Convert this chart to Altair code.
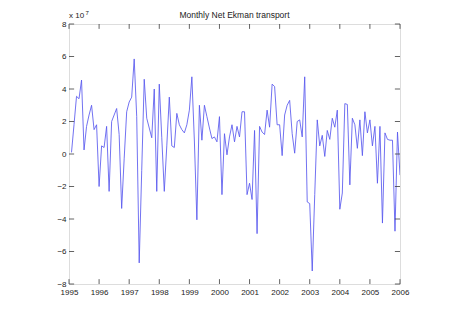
import altair as alt
import pandas as pd

# Monthly Net Ekman transport (units of 1e7), one list per year, months Jan..Dec
y1995 = [0.1, 1.8, 3.55, 3.4, 4.55, 0.25, 1.7, 2.4, 3.0, 1.5, 1.8, -2.0]
y1996 = [0.5, 0.4, 1.7, -2.3, 2.0, 2.4, 2.8, 1.2, -3.35, -0.3, 2.6, 3.2]
y1997 = [3.5, 5.85, 2.3, -6.7, -1.0, 4.6, 2.2, 1.6, 1.0, 4.0, -2.3, 4.3]
y1998 = [1.0, -2.3, 0.5, 3.5, 0.5, 0.4, 2.5, 1.8, 1.5, 1.3, 1.8, 2.7]
y1999 = [4.75, 0.8, -4.05, 3.0, 0.85, 3.0, 2.3, 1.6, 0.95, 1.05, 0.75, 2.3]
y2000 = [-2.5, 1.25, -0.05, 1.05, 1.8, 0.75, 1.7, 1.05, 2.6, 2.6, -2.5, -1.8]
y2001 = [-2.8, 1.45, -4.9, 1.7, 1.35, 1.2, 2.7, 1.65, 4.3, 4.15, 1.8, 1.8]
y2002 = [-0.1, 2.4, 3.0, 3.3, 1.25, 0.05, 2.0, 2.1, 1.05, 4.75, -2.95, -3.05]
y2003 = [-7.2, -2.5, 2.1, 0.5, 1.15, -0.15, 1.45, 0.9, 2.2, 1.65, 2.7, -3.4]
y2004 = [-2.4, 3.1, 3.05, -1.9, 2.2, 1.8, 0.35, 2.1, -0.1, 2.6, 1.3, 2.1]
y2005 = [0.5, 1.7, -1.8, 1.7, -4.25, 1.3, 0.9, 0.85, 0.85, -4.75, 1.35, -1.3]

start_year = 1995
x_ticks = [1995, 1996, 1997, 1998, 1999, 2000, 2001, 2002, 2003, 2004, 2005, 2006]
y_ticks = [-8, -6, -4, -2, 0, 2, 4, 6, 8]
title_text = "Monthly Net Ekman transport"

vals = (y1995 + y1996 + y1997 + y1998 + y1999 + y2000 + y2001 + y2002
        + y2003 + y2004 + y2005)
df = pd.DataFrame({"t": [start_year + (i + 1) / 12 for i in range(len(vals))],
                   "v": vals})

FONT = "Liberation Sans"
AX = "#3c3c3c"
W, H = 331, 260
xs = alt.Scale(domain=[1995, 2006], nice=False, zero=False)
ys = alt.Scale(domain=[-8, 8], nice=False, zero=False)
x_axis = alt.Axis(values=x_ticks, format="d", title=None, tickSize=0,
                  grid=False, domain=False, labelPadding=4,
                  labelOverlap=False, labelFlush=False, labelBound=False,
                  labelFont=FONT, labelFontSize=8, labelColor="#222")
y_axis = alt.Axis(values=y_ticks, title=None, tickSize=0, grid=False,
                  domain=False, labelPadding=3, labelOverlap=False,
                  labelFlush=False, labelBound=False, labelFont=FONT,
                  labelFontSize=8, labelColor="#222")

line = alt.Chart(df).mark_line(color="#5858ee", strokeWidth=0.85, clip=True).encode(
    x=alt.X("t:Q", scale=xs, axis=x_axis),
    y=alt.Y("v:Q", scale=ys, axis=y_axis),
)

xt = pd.DataFrame({"x": x_ticks})
yt = pd.DataFrame({"y": y_ticks})

bottom_ticks = alt.Chart(xt).mark_rule(color=AX, strokeWidth=0.8).encode(
    x=alt.X("x:Q", scale=xs, axis=x_axis),
    y=alt.YDatum(-8, scale=ys, axis=y_axis), y2=alt.datum(-7.7))
top_ticks = alt.Chart(xt).mark_rule(color=AX, strokeWidth=0.8).encode(
    x=alt.X("x:Q", scale=xs, axis=x_axis),
    y=alt.YDatum(8, scale=ys, axis=y_axis), y2=alt.datum(7.7))
left_ticks = alt.Chart(yt).mark_rule(color=AX, strokeWidth=0.8).encode(
    y=alt.Y("y:Q", scale=ys, axis=y_axis),
    x=alt.XDatum(1995, scale=xs, axis=x_axis), x2=alt.datum(1995.17))
right_ticks = alt.Chart(yt).mark_rule(color=AX, strokeWidth=0.8).encode(
    y=alt.Y("y:Q", scale=ys, axis=y_axis),
    x=alt.XDatum(2006, scale=xs, axis=x_axis), x2=alt.datum(2005.83))

title_mark = alt.Chart(pd.DataFrame({"s": [title_text]})).mark_text(
    font=FONT, fontSize=8.5, align="center", baseline="middle", color="#222").encode(
    text="s:N", x=alt.value(W / 2), y=alt.value(-9))
exp_base = alt.Chart(pd.DataFrame({"s": ["x 10"]})).mark_text(
    font=FONT, fontSize=8, align="left", baseline="middle", color="#222").encode(
    text="s:N", x=alt.value(0), y=alt.value(-8))
exp_pow = alt.Chart(pd.DataFrame({"s": ["7"]})).mark_text(
    font=FONT, fontSize=6, align="left", baseline="middle", color="#222").encode(
    text="s:N", x=alt.value(16.5), y=alt.value(-11))

chart = alt.layer(line, bottom_ticks, top_ticks, left_ticks, right_ticks,
                  title_mark, exp_base, exp_pow).properties(
    width=W, height=H,
    autosize=alt.AutoSizeParams(type="none"),
    padding={"left": 61, "top": 16, "right": 40, "bottom": 20},
).configure_view(stroke=AX, strokeWidth=1).configure(background="white")

chart.save("out.html", embed_options={"renderer": "svg", "actions": False})
